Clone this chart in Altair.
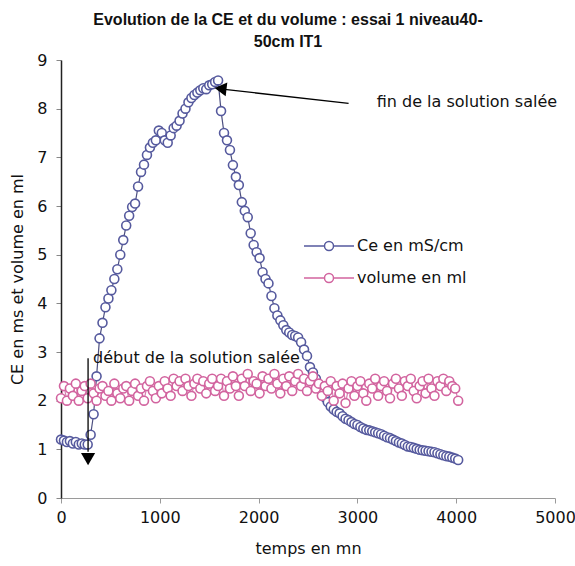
import altair as alt
import pandas as pd

# Sampling times (minutes)
temps_mn = [
    0, 30, 60, 90, 120, 150, 180, 210, 240, 270,
    300, 330, 360, 390, 420, 450, 480, 510, 540, 570,
    600, 630, 660, 690, 720, 750, 780, 810, 840, 870,
    900, 930, 960, 990, 1020, 1050, 1080, 1110, 1140, 1170,
    1200, 1230, 1260, 1290, 1320, 1350, 1380, 1410, 1440, 1470,
    1500, 1530, 1560, 1590, 1620, 1650, 1680, 1710, 1740, 1770,
    1800, 1830, 1860, 1890, 1920, 1950, 1980, 2010, 2040, 2070,
    2100, 2130, 2160, 2190, 2220, 2250, 2280, 2310, 2340, 2370,
    2400, 2430, 2460, 2490, 2520, 2550, 2580, 2610, 2640, 2670,
    2700, 2730, 2760, 2790, 2820, 2850, 2880, 2910, 2940, 2970,
    3000, 3030, 3060, 3090, 3120, 3150, 3180, 3210, 3240, 3270,
    3300, 3330, 3360, 3390, 3420, 3450, 3480, 3510, 3540, 3570,
    3600, 3630, 3660, 3690, 3720, 3750, 3780, 3810, 3840, 3870,
    3900, 3930, 3960, 3990, 4020,
]

# Electrical conductivity (mS/cm)
ce_ms_cm = [
    1.20, 1.18, 1.15, 1.17, 1.12, 1.15, 1.10, 1.12, 1.10, 1.10,
    1.30, 1.72, 2.50, 3.28, 3.60, 3.92, 4.10, 4.27, 4.50, 4.70,
    5.00, 5.30, 5.60, 5.80, 5.98, 6.05, 6.40, 6.70, 6.85, 7.05,
    7.20, 7.30, 7.35, 7.55, 7.50, 7.35, 7.30, 7.45, 7.60, 7.65,
    7.75, 7.90, 8.00, 8.13, 8.22, 8.28, 8.33, 8.38, 8.42, 8.40,
    8.48, 8.50, 8.55, 8.58, 7.95, 7.50, 7.35, 7.15, 6.84, 6.60,
    6.43, 6.08, 5.90, 5.77, 5.44, 5.20, 5.05, 4.93, 4.64, 4.50,
    4.41, 4.15, 3.90, 3.75, 3.65, 3.55, 3.45, 3.40, 3.35, 3.33,
    3.30, 3.20, 3.05, 2.92, 2.69, 2.58, 2.45, 2.30, 2.20, 2.07,
    1.97, 1.88, 1.82, 1.77, 1.74, 1.68, 1.63, 1.60, 1.56, 1.52,
    1.50, 1.46, 1.43, 1.40, 1.39, 1.37, 1.35, 1.33, 1.31, 1.28,
    1.25, 1.23, 1.20, 1.17, 1.14, 1.12, 1.09, 1.06, 1.05, 1.03,
    1.01, 0.99, 0.98, 0.97, 0.96, 0.95, 0.94, 0.92, 0.90, 0.88,
    0.86, 0.85, 0.83, 0.81, 0.78,
]

# Collected volume (ml)
volume_ml = [
    2.05, 2.30, 2.00, 2.25, 2.10, 2.35, 2.00, 2.20, 2.30, 2.05,
    2.35, 2.15, 2.00, 2.25, 2.30, 2.10, 2.20, 2.00, 2.35, 2.15,
    2.05, 2.25, 2.30, 2.00, 2.20, 2.35, 2.10, 2.25, 2.00, 2.30,
    2.40, 2.20, 2.05, 2.30, 2.15, 2.40, 2.25, 2.10, 2.45, 2.30,
    2.40, 2.20, 2.45, 2.30, 2.10, 2.35, 2.45, 2.25, 2.40, 2.15,
    2.35, 2.45, 2.20, 2.30, 2.45, 2.10, 2.40, 2.25, 2.50, 2.30,
    2.10, 2.45, 2.30, 2.55, 2.20, 2.40, 2.35, 2.15, 2.50, 2.30,
    2.45, 2.25, 2.55, 2.35, 2.15, 2.45, 2.30, 2.50, 2.20, 2.40,
    2.55, 2.30, 2.45, 2.20, 2.40, 2.50, 2.25, 2.35, 2.10, 2.30,
    2.20, 2.40, 2.00, 2.30, 2.15, 2.35, 1.95, 2.25, 2.40, 2.10,
    2.30, 2.40, 2.15, 2.00, 2.35, 2.25, 2.45, 2.10, 2.30, 2.40,
    2.20, 2.05, 2.35, 2.45, 2.25, 2.10, 2.40, 2.30, 2.45, 2.20,
    2.05, 2.30, 2.40, 2.15, 2.45, 2.25, 2.10, 2.40, 2.30, 2.45,
    2.20, 2.40, 2.30, 2.25, 2.00,
]

series = ["Ce en mS/cm", "volume en ml"]
marker_colors = ["#565a9e", "#d2649f"]
line_colors = ["#4c4f80", "#d77fb0"]

# Annotation anchors (data coordinates)
fin_text_t, fin_text_v = [3195], [8.13]
fin_arrow_t, fin_arrow_v, fin_arrow_t2, fin_arrow_v2 = [2911], [8.11], [1633], [8.40]
fin_head_t, fin_head_v = [1615], [8.41]
debut_text_t, debut_text_v = [325], [2.87]
debut_arrow_t, debut_arrow_v, debut_arrow_v2 = [274], [2.87], [0.95]
debut_head_t, debut_head_v = [274], [0.80]

n = len(temps_mn)
serie_col = [series[0]] * n + [series[1]] * n
df = pd.DataFrame({
    "temps": temps_mn + temps_mn,
    "valeur": ce_ms_cm + volume_ml,
    "serie": serie_col,
    # separate column so the connecting-line scale stays apart from the legend
    "trace": serie_col,
})

FONT = "DejaVu Sans"

x_scale = alt.Scale(domain=[0, 5000], nice=False)
y_scale = alt.Scale(domain=[0, 9], nice=False)

x_axis = alt.Axis(
    values=[0, 1000, 2000, 3000, 4000, 5000], format="d", grid=False,
    domainColor="#9a9a9a", tickColor="#9a9a9a", tickSize=5,
    labelPadding=6, labelFlush=False, labelOverlap=False,
    labelFont=FONT, labelFontSize=16, labelColor="#111",
    title="temps en mn", titleFont=FONT, titleFontSize=16,
    titleFontWeight="normal", titleColor="#111",
    titleX=247, titleY=50, titleBaseline="middle", titleAlign="center",
)
y_axis = alt.Axis(
    values=list(range(10)), grid=False,
    domainColor="#222", domainWidth=1.5, tickColor="#888", tickSize=5,
    labelPadding=9, labelFont=FONT, labelFontSize=16, labelColor="#111",
    title="CE en ms et volume en ml", titleFont=FONT, titleFontSize=16,
    titleFontWeight="normal", titleColor="#111",
    titleX=-44, titleY=219, titleAngle=270,
    titleBaseline="middle", titleAlign="center",
)

x_enc = alt.X("temps:Q", scale=x_scale, axis=x_axis)
y_enc = alt.Y("valeur:Q", scale=y_scale, axis=y_axis)

# connecting lines: domain taken from the data (alphabetical order matches `series`)
lines = alt.Chart(df).mark_line(strokeWidth=1.2).encode(
    x=x_enc,
    y=y_enc,
    stroke=alt.Stroke("trace:N", scale=alt.Scale(range=line_colors), legend=None),
    order="temps:Q",
)

legend_symbol = (
    "M-2.5,0L-0.45,0M0.45,0L2.5,0"
    "M-0.45,0A0.45,0.45,0,1,1,0.45,0A0.45,0.45,0,1,1,-0.45,0Z"
)

points = alt.Chart(df).mark_point(
    shape="circle", filled=False, fill="white", size=80, strokeWidth=1.6, opacity=1
).encode(
    x=x_enc,
    y=y_enc,
    color=alt.Color(
        "serie:N",
        scale=alt.Scale(domain=series, range=marker_colors),
        legend=alt.Legend(
            title=None, orient="none", legendX=257, legendY=175,
            symbolType=legend_symbol, symbolSize=400, symbolStrokeWidth=1.5,
            labelFont=FONT, labelFontSize=16, labelColor="#111",
            labelOffset=17, rowPadding=13,
        ),
    ),
)

fin_arrow = alt.Chart(pd.DataFrame({
    "t": fin_arrow_t, "v": fin_arrow_v, "t2": fin_arrow_t2, "v2": fin_arrow_v2,
})).mark_rule(color="black", strokeWidth=1.3).encode(
    x=alt.X("t:Q", scale=x_scale), y=alt.Y("v:Q", scale=y_scale),
    x2="t2:Q", y2="v2:Q",
)
fin_head = alt.Chart(pd.DataFrame({"t": fin_head_t, "v": fin_head_v})).mark_point(
    shape="triangle-left", filled=True, color="black", size=190, angle=7, opacity=1
).encode(x=alt.X("t:Q", scale=x_scale), y=alt.Y("v:Q", scale=y_scale))
fin_text = alt.Chart(pd.DataFrame({
    "t": fin_text_t, "v": fin_text_v, "txt": ["fin de la solution salée"],
})).mark_text(align="left", baseline="middle", font=FONT, fontSize=16, color="#111").encode(
    x=alt.X("t:Q", scale=x_scale), y=alt.Y("v:Q", scale=y_scale), text="txt:N",
)

debut_arrow = alt.Chart(pd.DataFrame({
    "t": debut_arrow_t, "v": debut_arrow_v, "v2": debut_arrow_v2,
})).mark_rule(color="black", strokeWidth=1.3).encode(
    x=alt.X("t:Q", scale=x_scale), y=alt.Y("v:Q", scale=y_scale), y2="v2:Q",
)
debut_head = alt.Chart(pd.DataFrame({"t": debut_head_t, "v": debut_head_v})).mark_point(
    shape="triangle-down", filled=True, color="black", size=200, opacity=1
).encode(x=alt.X("t:Q", scale=x_scale), y=alt.Y("v:Q", scale=y_scale))
debut_text = alt.Chart(pd.DataFrame({
    "t": debut_text_t, "v": debut_text_v, "txt": ["début de la solution salée"],
})).mark_text(align="left", baseline="middle", font=FONT, fontSize=16, color="#111").encode(
    x=alt.X("t:Q", scale=x_scale), y=alt.Y("v:Q", scale=y_scale), text="txt:N",
)

chart = alt.layer(
    lines, points, fin_arrow, fin_head, fin_text, debut_arrow, debut_head, debut_text,
).properties(
    width=494,
    height=438,
    autosize=alt.AutoSizeParams(type="none"),
    padding={"left": 61, "top": 60, "right": 20, "bottom": 68},
    background="white",
    title=alt.TitleParams(
        text=["Evolution de la CE et du volume : essai 1 niveau40-", "50cm IT1"],
        font="Liberation Sans", fontSize=16, fontWeight="bold", color="#111",
        anchor="middle", dx=-20, offset=2, lineHeight=22,
    ),
).configure_view(stroke=None)

chart.save("out.html", embed_options={"renderer": "svg", "actions": False})
